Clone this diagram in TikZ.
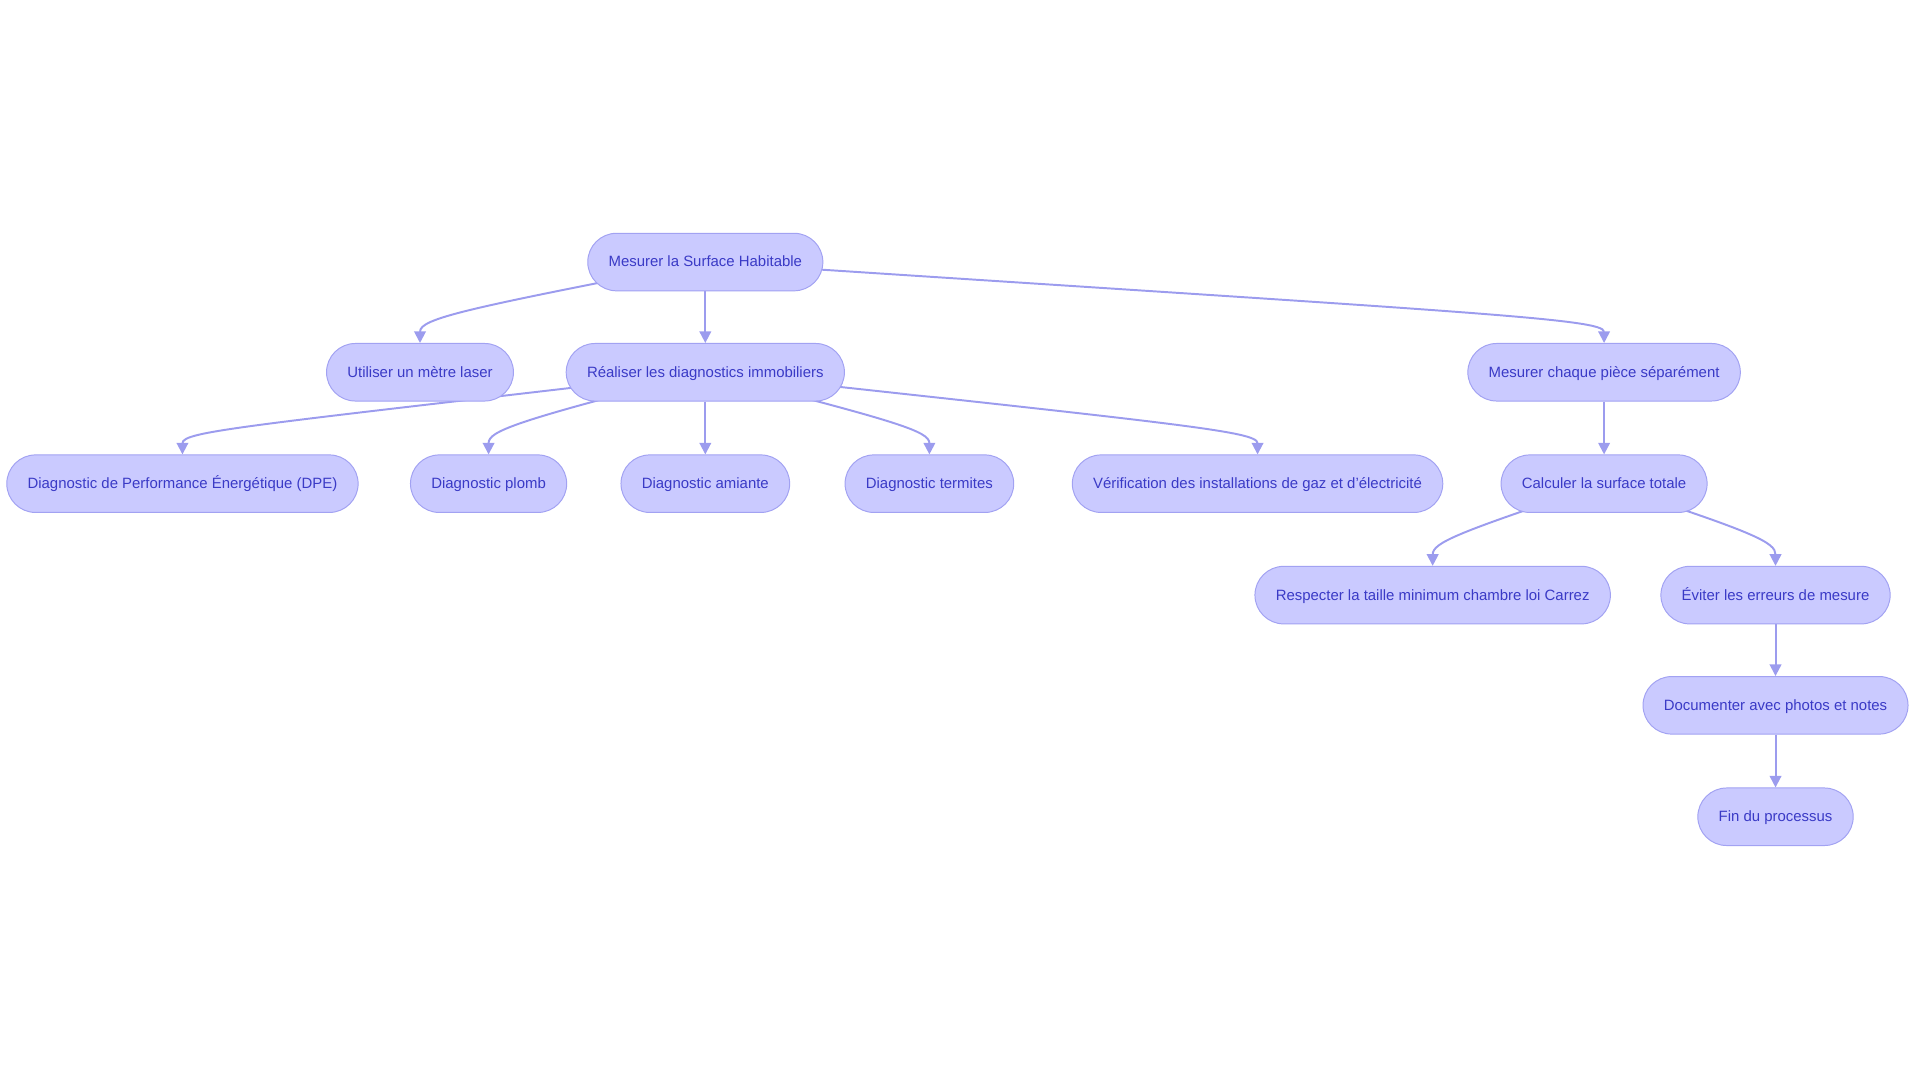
\documentclass[tikz,border=0pt]{standalone}
\usepackage{fontspec}
\setmainfont{Liberation Sans}
\usetikzlibrary{arrows.meta,backgrounds}
\definecolor{boxfill}{HTML}{CACAFF}
\definecolor{boxline}{HTML}{A2A2F2}
\definecolor{linkline}{HTML}{9C9CEE}
\definecolor{boxtext}{HTML}{3A3AC6}
\begin{document}
\begin{tikzpicture}[x=1pt,y=1pt,
  etape/.style={draw=boxline,line width=0.8pt,fill=boxfill,text=boxtext,rounded corners=23.5pt,
    minimum height=47pt,inner xsep=17pt,text height=10pt,text depth=2pt,font=\fontsize{12.2}{14}\selectfont},
  lien/.style={draw=linkline,line width=1.6pt,-{Triangle[length=9.5pt,width=9.5pt]}}]
\useasboundingbox(0,0)rectangle(1568,-884.4);
\node[etape](mesurer)at(576,-214){Mesurer la Surface Habitable};
\node[etape](laser)at(343,-304){Utiliser un mètre laser};
\node[etape](diags)at(576,-304){Réaliser les diagnostics immobiliers};
\node[etape](piece)at(1310,-304){Mesurer chaque pièce séparément};
\node[etape](dpe)at(149,-395){Diagnostic de Performance Énergétique (DPE)};
\node[etape](plomb)at(399,-395){Diagnostic plomb};
\node[etape](amiante)at(576,-395){Diagnostic amiante};
\node[etape](termites)at(759,-395){Diagnostic termites};
\node[etape](gaz)at(1027,-395){Vérification des installations de gaz et d'électricité};
\node[etape](total)at(1310,-395){Calculer la surface totale};
\node[etape](carrez)at(1170,-486){Respecter la taille minimum chambre loi Carrez};
\node[etape](erreurs)at(1450,-486){Éviter les erreurs de mesure};
\node[etape](photos)at(1450,-576){Documenter avec photos et notes};
\node[etape](fin)at(1450,-667){Fin du processus};
\begin{pgfonlayer}{background}
\draw[lien](mesurer.center)..controls(380,-252)and(343,-260)..(laser.north);
\draw[lien](mesurer)--(diags);
\draw[lien](mesurer.center)..controls(1200,-255)and(1310,-260)..(piece.north);
\draw[lien](diags.center)..controls(200,-348)and(149,-352)..(dpe.north);
\draw[lien](diags.center)..controls(420,-344)and(399,-352)..(plomb.north);
\draw[lien](diags)--(amiante);
\draw[lien](diags.center)..controls(732,-344)and(759,-352)..(termites.north);
\draw[lien](diags.center)..controls(960,-346)and(1027,-352)..(gaz.north);
\draw[lien](piece)--(total);
\draw[lien](total.center)..controls(1190,-435)and(1170,-443)..(carrez.north);
\draw[lien](total.center)..controls(1434,-435)and(1450,-443)..(erreurs.north);
\draw[lien](erreurs)--(photos);
\draw[lien](photos)--(fin);
\end{pgfonlayer}
\end{tikzpicture}
\end{document}
